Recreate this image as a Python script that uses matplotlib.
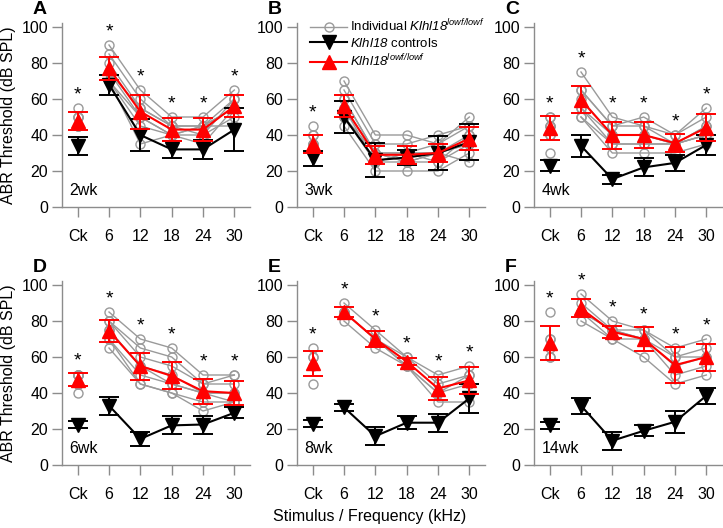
import matplotlib
matplotlib.use("Agg")
import matplotlib.pyplot as plt
import numpy as np
from matplotlib.lines import Line2D

plt.rcParams['font.family'] = ['Liberation Sans', 'DejaVu Sans']
plt.rcParams['mathtext.fontset'] = 'custom'
plt.rcParams['mathtext.it'] = 'Liberation Sans:italic'
plt.rcParams['mathtext.rm'] = 'Liberation Sans:italic'

categories = ["Ck", "6", "12", "18", "24", "30"]
panel_letters = ["A", "B", "C", "D", "E", "F"]
ages = ["2wk", "3wk", "4wk", "6wk", "8wk", "14wk"]

# Control means / SD
ctrl_2wk = [34, 68, 40, 32, 32, 43]
ctrl_2wk_sd = [5, 5.5, 9, 4.5, 5.5, 12]
ctrl_3wk = [27, 50, 26, 27.5, 30, 36]
ctrl_3wk_sd = [4, 9, 9.5, 4, 9.5, 10]
ctrl_4wk = [23, 34, 15.5, 22, 24.5, 34.5]
ctrl_4wk_sd = [3, 6, 2.5, 5, 4.5, 5.5]
ctrl_6wk = [22.5, 33, 14.5, 22, 22.5, 29]
ctrl_6wk_sd = [2, 5, 4, 5, 5, 3]
ctrl_8wk = [23, 32, 16, 23.5, 23.5, 37]
ctrl_8wk_sd = [2, 2, 5, 3.5, 5, 8]
ctrl_14wk = [22, 33, 13.5, 19, 24, 38.5]
ctrl_14wk_sd = [2, 4.5, 5, 3, 6, 4.5]

# Klhl18 lowf/lowf means / SD
mut_2wk = [48, 77, 53, 43, 43, 56]
mut_2wk_sd = [5, 6.5, 9.5, 6.5, 6.5, 6]
mut_3wk = [35, 56, 29, 29, 30, 38]
mut_3wk_sd = [5, 6, 5, 5, 5, 6.5]
mut_4wk = [44, 59.5, 40, 40, 35.5, 44]
mut_4wk_sd = [6.5, 7.5, 7.5, 7, 5, 7.5]
mut_6wk = [47.5, 74.5, 55, 49.5, 41, 40]
mut_6wk_sd = [3.5, 6, 7.5, 7.5, 7, 6.5]
mut_8wk = [56.5, 85, 70, 57.5, 42.5, 47]
mut_8wk_sd = [7, 3, 4.5, 2, 6.5, 7.5]
mut_14wk = [68, 87, 74, 70, 55.5, 60]
mut_14wk_sd = [9.5, 5, 3.5, 6.5, 10, 7.5]

# Individual mutant mice (Ck, 6, 12, 18, 24, 30)
ind_2wk = [
    [55, 90, 65, 50, 50, 65],
    [50, 85, 60, 45, 45, 60],
    [50, 80, 55, 45, 45, 55],
    [45, 75, 55, 45, 40, 60],
    [45, 75, 50, 40, 45, 55],
    [45, 70, 50, 40, 40, 50],
    [50, 70, 45, 40, 35, 55],
    [45, 70, 35, 40, 45, 45],
]
ind_3wk = [
    [45, 70, 40, 40, 35, 50],
    [40, 65, 35, 35, 40, 45],
    [40, 60, 30, 30, 35, 45],
    [35, 60, 30, 25, 30, 40],
    [35, 55, 30, 30, 25, 40],
    [35, 55, 25, 30, 30, 35],
    [30, 50, 25, 25, 30, 35],
    [30, 50, 30, 25, 25, 35],
    [30, 45, 20, 20, 20, 30],
    [30, 50, 25, 30, 30, 25],
]
ind_4wk = [
    [50, 75, 50, 45, 40, 55],
    [50, 65, 45, 50, 40, 50],
    [45, 65, 45, 45, 35, 45],
    [45, 60, 40, 40, 35, 45],
    [45, 55, 40, 40, 35, 40],
    [40, 55, 35, 35, 35, 40],
    [40, 50, 35, 35, 35, 40],
    [30, 50, 30, 30, 30, 35],
]
ind_6wk = [
    [50, 85, 70, 65, 50, 50],
    [50, 80, 65, 60, 45, 50],
    [50, 80, 60, 55, 45, 45],
    [50, 75, 55, 50, 40, 40],
    [50, 75, 55, 45, 40, 40],
    [45, 70, 50, 45, 40, 35],
    [45, 70, 45, 40, 35, 35],
    [40, 65, 45, 40, 30, 35],
]
ind_8wk = [
    [65, 90, 75, 60, 50, 55],
    [60, 85, 70, 60, 45, 50],
    [55, 85, 70, 55, 40, 50],
    [60, 85, 70, 55, 40, 45],
    [45, 80, 65, 55, 35, 35],
]
ind_14wk = [
    [85, 95, 80, 75, 65, 70],
    [70, 90, 75, 75, 60, 65],
    [65, 85, 75, 70, 55, 60],
    [60, 85, 70, 70, 50, 55],
    [60, 80, 70, 60, 45, 50],
    [70, 85, 75, 70, 60, 60],
]

# significance flags
sig_2wk = [1, 1, 1, 1, 1, 1]
sig_3wk = [1, 0, 0, 0, 0, 0]
sig_4wk = [1, 1, 1, 1, 1, 1]
sig_6wk = [1, 1, 1, 1, 1, 1]
sig_8wk = [1, 1, 1, 1, 1, 1]
sig_14wk = [1, 1, 1, 1, 1, 1]

ctrl = [ctrl_2wk, ctrl_3wk, ctrl_4wk, ctrl_6wk, ctrl_8wk, ctrl_14wk]
ctrl_sd = [ctrl_2wk_sd, ctrl_3wk_sd, ctrl_4wk_sd, ctrl_6wk_sd, ctrl_8wk_sd, ctrl_14wk_sd]
mut = [mut_2wk, mut_3wk, mut_4wk, mut_6wk, mut_8wk, mut_14wk]
mut_sd = [mut_2wk_sd, mut_3wk_sd, mut_4wk_sd, mut_6wk_sd, mut_8wk_sd, mut_14wk_sd]
inds = [ind_2wk, ind_3wk, ind_4wk, ind_6wk, ind_8wk, ind_14wk]
sigs = [sig_2wk, sig_3wk, sig_4wk, sig_6wk, sig_8wk, sig_14wk]

W, H = 723, 528
fig = plt.figure(figsize=(W / 100, H / 100), dpi=100)

lefts = [62, 297, 534]
bottoms = [207, 465]
ax_w = 188
ax_h = 183.6

GRAY = '#9a9a9a'
SPINE = '#8c8c8c'
RED = '#ff0000'

x = np.arange(len(categories))

for i in range(6):
    r, c = divmod(i, 3)
    ax = fig.add_axes([lefts[c] / W, (H - bottoms[r]) / H, ax_w / W, ax_h / H])
    ax.set_xlim(-0.5, 5.5)
    ax.set_ylim(0, 102)
    for s in ['top', 'right']:
        ax.spines[s].set_visible(False)
    for s in ['left', 'bottom']:
        ax.spines[s].set_color(SPINE)
        ax.spines[s].set_linewidth(1.0)
    ax.spines['left'].set_bounds(0, 102)
    ax.set_xticks(x)
    ax.set_xticklabels(categories)
    ax.set_yticks([0, 20, 40, 60, 80, 100])
    ax.tick_params(axis='both', colors=SPINE, labelcolor='black', labelsize=11.5,
                   length=7, width=1.0, direction='out')
    ax.tick_params(axis='x', pad=9)
    ax.tick_params(axis='y', pad=3)

    ind = np.array(inds[i], dtype=float)
    # individual lines
    for row in ind:
        ax.plot(x[1:], row[1:], '-o', color=GRAY, lw=1.0, ms=6.5,
                mfc='none', mec=GRAY, mew=1.0, zorder=2)
        ax.plot(x[:1], row[:1], 'o', ms=6.5, mfc='none', mec=GRAY, mew=1.0, zorder=2)

    # controls
    cm = np.array(ctrl[i]); cs = np.array(ctrl_sd[i])
    ax.errorbar(x, cm, yerr=cs, fmt='none', ecolor='black', elinewidth=1.4,
                capsize=7, capthick=1.4, zorder=3)
    ax.plot(x[1:], cm[1:], '-', color='black', lw=1.5, zorder=3)
    ax.plot(x, cm, 'v', color='black', ms=10, zorder=4)

    # mutants
    mm = np.array(mut[i]); ms_ = np.array(mut_sd[i])
    ax.errorbar(x, mm, yerr=ms_, fmt='none', ecolor=RED, elinewidth=1.4,
                capsize=7, capthick=1.4, zorder=5)
    ax.plot(x[1:], mm[1:], '-', color=RED, lw=1.5, zorder=5)
    ax.plot(x, mm, '^', color=RED, ms=10, zorder=6)

    # significance stars
    for j in range(len(categories)):
        if sigs[i][j]:
            top = max(mm[j] + ms_[j], ind[:, j].max())
            ax.text(x[j], top + 7, '*', ha='center', va='center', fontsize=14,
                    color='black', clip_on=False)

    ax.text(0.04, 0.05, ages[i], transform=ax.transAxes, fontsize=11.5,
            ha='left', va='bottom')

    fig.text((lefts[c] - 29) / W, 1 - (bottoms[r] - 197) / H, panel_letters[i],
             fontsize=14, fontweight='bold', ha='left', va='center')

    if c == 0:
        ax.set_ylabel('ABR Threshold (dB SPL)', fontsize=11.5, labelpad=4)

    if i == 1:
        handles = [
            Line2D([], [], color=GRAY, lw=1.0, marker='o', ms=6.5, mfc='none', mec=GRAY),
            Line2D([], [], color='black', lw=1.5, marker='v', ms=10),
            Line2D([], [], color=RED, lw=1.5, marker='^', ms=10),
        ]
        labels = [r'Individual $Klhl18^{lowf/lowf}$',
                  r'$Klhl18$ controls',
                  r'$Klhl18^{lowf/lowf}$']
        ax.legend(handles, labels, loc='upper left', bbox_to_anchor=(0.043, 1.06),
                  frameon=False, fontsize=9.5, handlelength=2.8, handletextpad=0.2,
                  labelspacing=0.2, borderaxespad=0)

fig.text(370 / W, 1 - 516 / H, 'Stimulus / Frequency (kHz)', ha='center', va='center',
         fontsize=11.5)

fig.savefig('out.png', dpi=100)
